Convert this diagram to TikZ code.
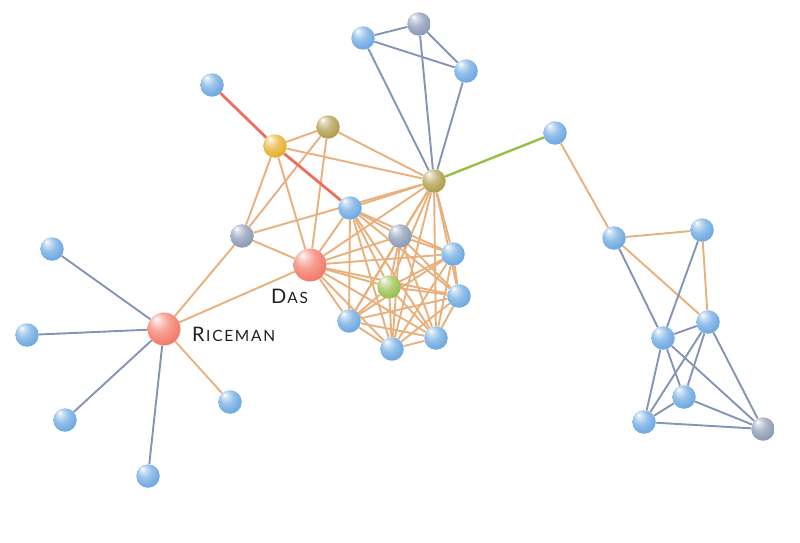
\documentclass[tikz,border=0pt]{standalone}
\usepackage{fontspec}
\setmainfont{Lato}
\usetikzlibrary{backgrounds}
\definecolor{cblue}{HTML}{72ACE2}
\definecolor{cgray}{HTML}{8F9DB8}
\definecolor{ckhaki}{HTML}{B3A052}
\definecolor{cyellow}{HTML}{E8B132}
\definecolor{cgreen}{HTML}{9CC255}
\definecolor{cred}{HTML}{F3806F}
\definecolor{eorange}{HTML}{E8B07C}
\definecolor{eblue}{HTML}{8494B4}
\definecolor{ered}{HTML}{EE6E5E}
\definecolor{egreen}{HTML}{98BE46}
\colorlet{bc}{cblue}
\pgfdeclareradialshading[bc]{myball}{\pgfqpoint{-12bp}{16bp}}{color(0bp)=(white); color(6bp)=(bc!35!white); color(16bp)=(bc!75!white); color(28bp)=(bc); color(50bp)=(bc!85!black)}
\tikzset{
  ballnode/.style={circle, inner sep=0pt, minimum size=23.5pt, shade, shading=myball, /utils/exec={\colorlet{bc}{#1}}},
  bigball/.style={ballnode=#1, minimum size=33pt},
  eo/.style={draw=eorange, line width=1.9pt},
  eb/.style={draw=eblue, line width=1.9pt},
  er/.style={draw=ered, line width=2.8pt},
  eg/.style={draw=egreen, line width=2.4pt},
  lbl/.style={anchor=base west, inner sep=0pt, text=black!88}
}
\newcommand{\capbig}[1]{{\fontsize{20}{20}\selectfont #1}}
\newcommand{\capsmall}[1]{{\fontsize{15.5}{16}\selectfont\addfontfeature{LetterSpace=11}#1}}
\begin{document}
\begin{tikzpicture}[x=1pt,y=-1pt]
\useasboundingbox (0,0) rectangle (800,543);
% nodes
\node[ballnode=cblue] (T) at (212,85) {};
\node[ballnode=cyellow] (Y) at (275,146) {};
\node[ballnode=ckhaki] (K1) at (328,127) {};
\node[ballnode=ckhaki] (H) at (434,181) {};
\node[ballnode=cblue] (A) at (363,38) {};
\node[ballnode=cgray] (B) at (419,24) {};
\node[ballnode=cblue] (C) at (466,71) {};
\node[ballnode=cblue] (G) at (555,133) {};
\node[ballnode=cblue] (B1) at (350,208) {};
\node[ballnode=cgray] (G1) at (242,236) {};
\node[ballnode=cgray] (G2) at (400,236) {};
\node[bigball=cred] (Das) at (310,265) {};
\node[ballnode=cgreen] (GR) at (389,287) {};
\node[ballnode=cblue] (N1) at (453,254) {};
\node[ballnode=cblue] (N2) at (459,296) {};
\node[ballnode=cblue] (N3) at (436,338) {};
\node[ballnode=cblue] (N4) at (392,349) {};
\node[ballnode=cblue] (N5) at (349,321) {};
\node[bigball=cred] (Ric) at (164,329) {};
\node[ballnode=cblue] (L1) at (52,249) {};
\node[ballnode=cblue] (L2) at (27,335) {};
\node[ballnode=cblue] (L3) at (65,420) {};
\node[ballnode=cblue] (L4) at (148,476) {};
\node[ballnode=cblue] (L5) at (230,402) {};
\node[ballnode=cblue] (R1) at (614,238) {};
\node[ballnode=cblue] (R2) at (702,230) {};
\node[ballnode=cblue] (R3) at (708,322) {};
\node[ballnode=cblue] (R4) at (663,338) {};
\node[ballnode=cblue] (R5) at (684,397) {};
\node[ballnode=cblue] (R6) at (644,422) {};
\node[ballnode=cgray] (R7) at (763,429) {};
% labels
\node[lbl] (ricelabel) at (192,341.5) {\capbig{R}\kern1.5pt\capsmall{ICEMAN}};
\node[lbl] (daslabel) at (271,303) {\capbig{D}\kern1pt\capsmall{AS}};
% edges
\begin{scope}[on background layer]
  % dense cluster
  \foreach \u [count=\i] in {Das,B1,G2,GR,N1,N2,N3,N4,N5,H} {
    \foreach \v [count=\j] in {Das,B1,G2,GR,N1,N2,N3,N4,N5,H} {
      \ifnum\j>\i \draw[eo] (\u) -- (\v); \fi
    }
  }
  \draw[eo] (Ric) -- (L5);
  \draw[eo] (Ric) -- (G1);
  \draw[eo] (Ric) -- (Das);
  \draw[eo] (G1) -- (Y);
  \draw[eo] (G1) -- (K1);
  \draw[eo] (G1) -- (Das);
  \draw[eo] (G1) -- (H);
  \draw[eo] (Y) -- (K1);
  \draw[eo] (Y) -- (H);
  \draw[eo] (Y) -- (Das);
  \draw[eo] (K1) -- (Das);
  \draw[eo] (K1) -- (H);
  \draw[eo] (G) -- (R1);
  \draw[eo] (R1) -- (R2);
  \draw[eo] (R1) -- (R3);
  \draw[eo] (R2) -- (R3);
  \draw[eb] (A) -- (B);
  \draw[eb] (A) -- (C);
  \draw[eb] (B) -- (C);
  \draw[eb] (A) -- (H);
  \draw[eb] (B) -- (H);
  \draw[eb] (C) -- (H);
  \draw[eb] (Ric) -- (L1);
  \draw[eb] (Ric) -- (L2);
  \draw[eb] (Ric) -- (L3);
  \draw[eb] (Ric) -- (L4);
  \draw[eb] (R1) -- (R4);
  \draw[eb] (R2) -- (R4);
  \draw[eb] (R4) -- (R3);
  \draw[eb] (R4) -- (R6);
  \draw[eb] (R4) -- (R5);
  \draw[eb] (R4) -- (R7);
  \draw[eb] (R3) -- (R6);
  \draw[eb] (R3) -- (R5);
  \draw[eb] (R3) -- (R7);
  \draw[eb] (R6) -- (R5);
  \draw[eb] (R5) -- (R7);
  \draw[eb] (R6) -- (R7);
  \draw[er] (T) -- (Y);
  \draw[er] (Y) -- (B1);
  \draw[eg] (H) -- (G);
\end{scope}
\end{tikzpicture}
\end{document}
